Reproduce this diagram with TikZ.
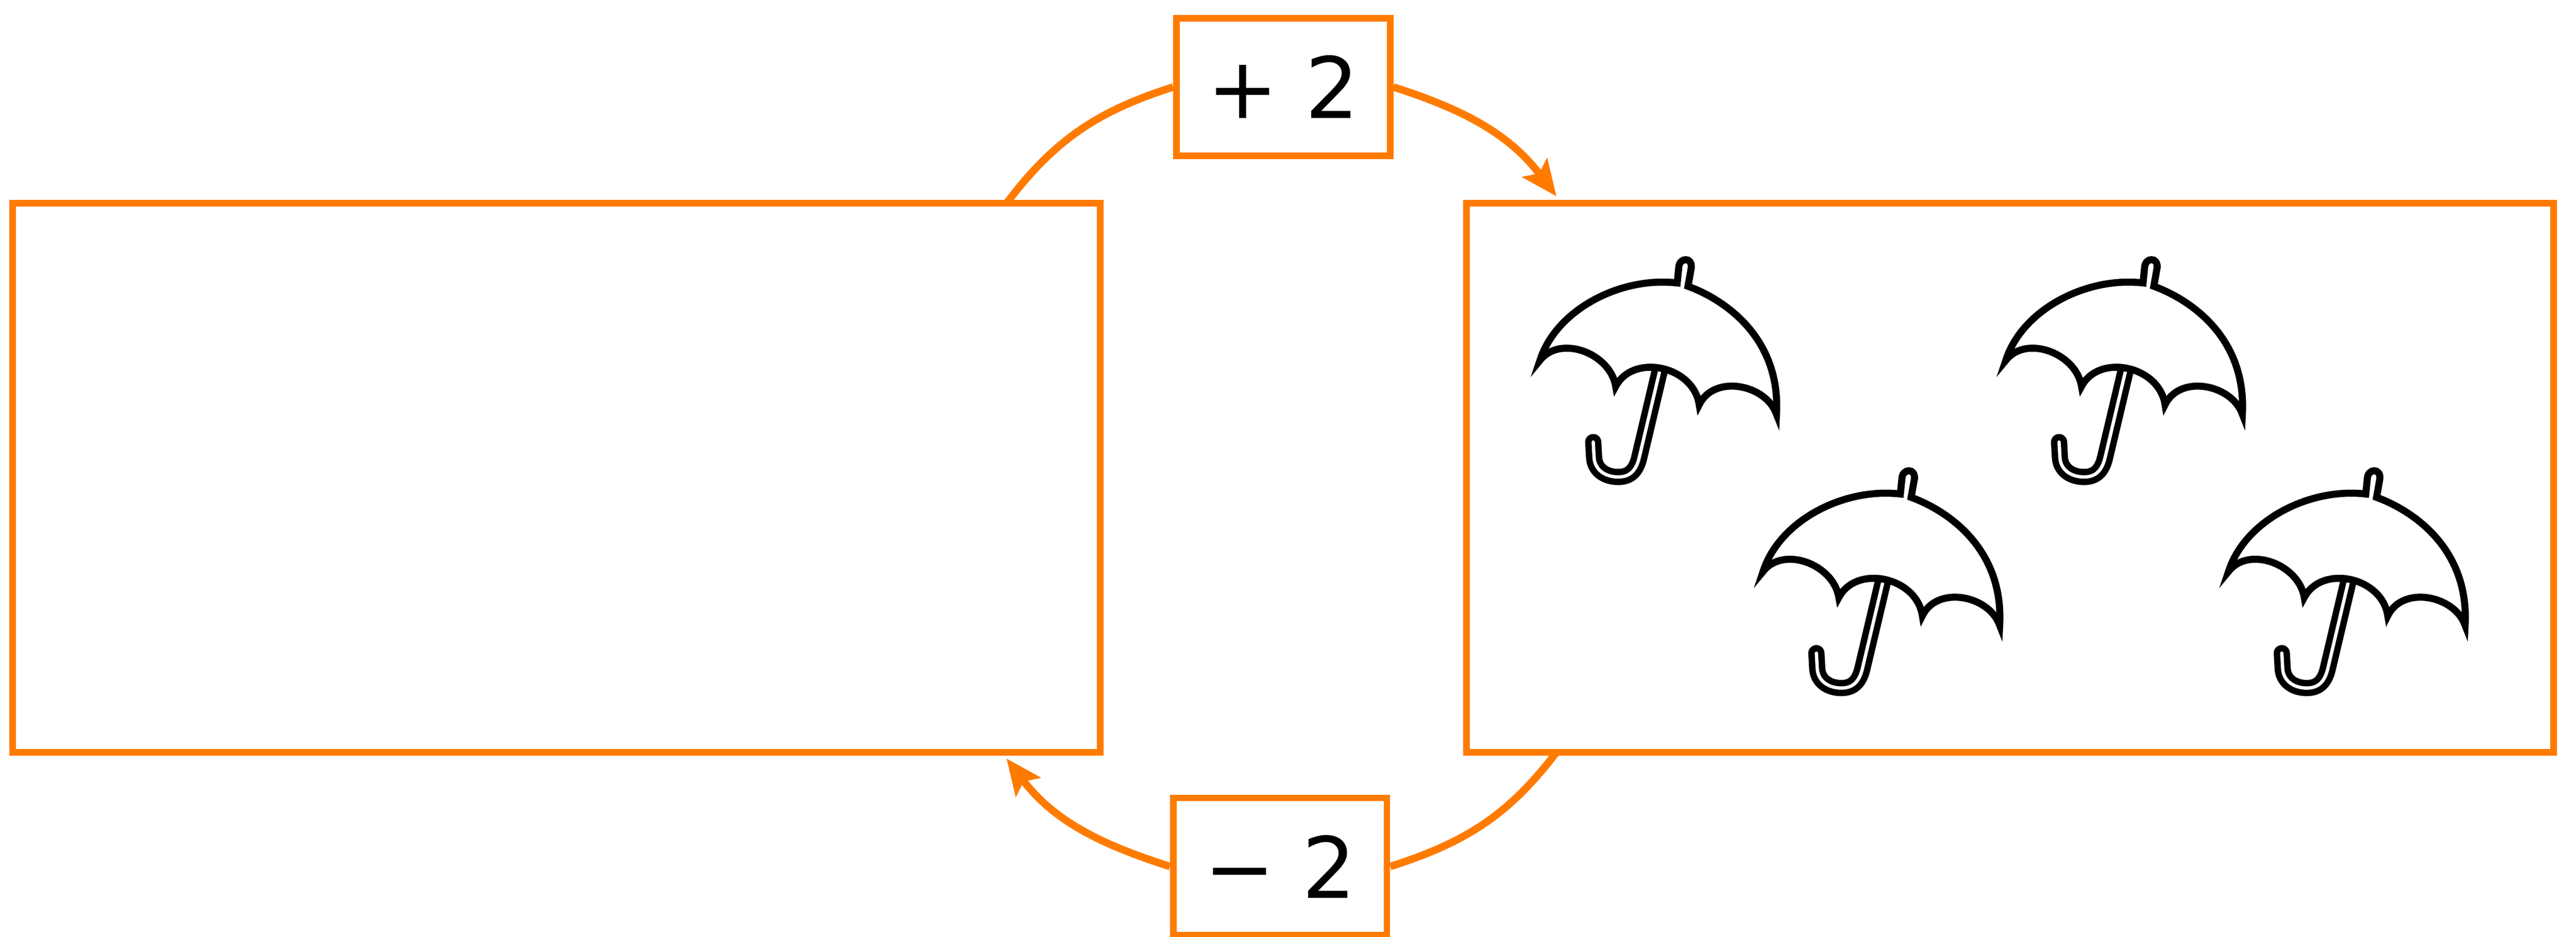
\documentclass[tikz,border=0pt]{standalone}
\usepackage{fontspec}
\setmainfont{DejaVu Sans}
\usetikzlibrary{arrows.meta}
\definecolor{cyorange}{RGB}{255,123,0}

\tikzset{
  umbrella/.pic={
    % shaft and hooked handle, drawn as a hollow stroke
    \draw[line width=3.9mm, line cap=round] (0.7,2.0) -- (-4.5,-20.0)
      .. controls (-5.3,-23.5) and (-7.0,-24.8) .. (-9.6,-24.8)
      .. controls (-12.8,-24.8) and (-15.3,-23) .. (-15.4,-20) -- (-15.6,-16.4);
    \draw[line width=0.8mm, line cap=round, white] (0.7,2.0) -- (-4.5,-20.0)
      .. controls (-5.3,-23.5) and (-7.0,-24.8) .. (-9.6,-24.8)
      .. controls (-12.8,-24.8) and (-15.3,-23) .. (-15.4,-20) -- (-15.6,-16.4);
    % canopy with tip and three scallops
    \draw[line width=1.7mm, fill=white] (-28.4,3.3)
      .. controls (-24.5,15.5) and (-9,23.5) .. (4.6,21.9)
      -- (5.0,25.8) .. controls (5.2,28) and (8.2,28.2) .. (8.0,25.6) -- (7.2,21.1)
      .. controls (17,17.5) and (29.5,8) .. (28.5,-9.7)
      .. controls (26,-2.5) and (13.5,0) .. (9.9,-7.4)
      .. controls (8.5,2) and (-6,5) .. (-10.2,-3.0)
      .. controls (-11.5,5) and (-23.5,9.5) .. cycle;
  }
}

\begin{document}
\begin{tikzpicture}[x=1mm, y=1mm,
  panel/.style={draw=cyorange, line width=1.6mm, minimum width=261.7mm,
    minimum height=132.1mm, inner sep=0pt, outer sep=0pt},
  opbox/.style={draw=cyorange, line width=1.6mm, fill=white, minimum width=51.4mm,
    minimum height=33mm, inner sep=0pt, font=\fontsize{58pt}{60pt}\selectfont},
  flow/.style={draw=cyorange, line width=1.8mm},
  tip/.style={-{Stealth[length=8.6mm, width=7.4mm, inset=1.7mm]}}]
\useasboundingbox (0,0) rectangle (619.9,225.4);
% the two sets
\node[panel] (before) at (133.85,110.4) {};
\node[panel] (after) at (483.7,110.4) {};
% operations
\node[opbox] (plus) at (308.8,204.45) {+ 2};
\node[opbox] (minus) at (308.05,16.85) {− 2};
% arrows round the loop
\draw[flow] ([xshift=-22.5mm]before.north east) to[out=53, in=197.7] (plus.west);
\draw[flow, tip] (plus.east) to[out=-17.7, in=127.2] ([shift={(21.7mm,1.7mm)}]after.north west);
\draw[flow] ([xshift=21.7mm]after.south west) to[out=232.8, in=17.7] (minus.east);
\draw[flow, tip] (minus.west) to[out=162.3, in=307.2] ([shift={(-22.5mm,-1.5mm)}]before.south east);
% umbrellas
\foreach \pos in {(399,135.4), (511.1,135.4), (452.7,84.6), (564.7,84.6)}
  \pic at \pos {umbrella};
\end{tikzpicture}
\end{document}
